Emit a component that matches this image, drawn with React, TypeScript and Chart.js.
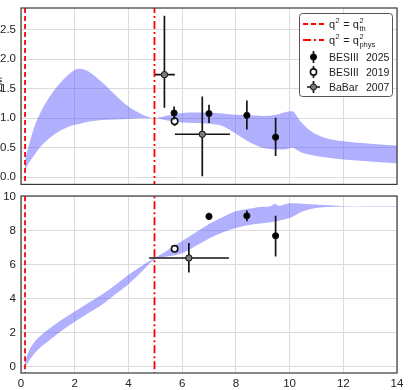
import React, { useEffect, useRef } from 'react';
import { Chart, registerables } from 'chart.js';
Chart.register(...registerables);

const FONT = "'Liberation Sans', Arial, sans-serif";

// vertical reference lines
const qTh = 0.15;
const qPhys = 4.97;

// ---------- top panel: band ----------
const bandTopX = [0.15, 0.3, 0.5, 0.75, 1, 1.5, 2, 2.2, 2.5, 3, 3.5, 4, 4.5, 4.97, 5.5, 6, 6.5, 7, 7.5, 8, 8.5, 9, 9.5, 9.8, 10.1, 10.4, 10.8, 11.3, 12, 13, 14];
const bandTopUpper = [0.3, 0.55, 0.86, 1.12, 1.32, 1.62, 1.82, 1.84, 1.8, 1.62, 1.4, 1.2, 1.07, 1.0, 1.05, 1.09, 1.1, 1.1, 1.08, 1.06, 1.05, 1.04, 1.06, 1.1, 1.12, 0.95, 0.78, 0.67, 0.61, 0.57, 0.54];
const bandTopLower = [0.12, 0.25, 0.38, 0.53, 0.64, 0.8, 0.89, 0.91, 0.94, 0.97, 0.98, 0.99, 1.0, 1.0, 0.96, 0.93, 0.92, 0.91, 0.87, 0.74, 0.6, 0.5, 0.47, 0.47, 0.5, 0.43, 0.38, 0.34, 0.3, 0.27, 0.24];

// ---------- bottom panel: band ----------
const bandBotX = [0.15, 0.3, 0.5, 0.75, 1, 1.5, 2, 2.5, 3, 3.5, 4, 4.5, 4.97, 5.5, 6, 6.5, 7, 7.5, 8, 8.5, 9, 9.3, 9.45, 9.6, 10, 10.5, 11, 11.5, 12, 13, 14];
const bandBotUpper = [0.3, 0.95, 1.45, 1.85, 2.17, 2.75, 3.25, 3.75, 4.23, 4.8, 5.41, 5.95, 6.38, 6.9, 7.4, 7.9, 8.4, 8.8, 9.15, 9.3, 9.42, 9.45, 9.6, 9.47, 9.62, 9.6, 9.55, 9.5, 9.45, 9.43, 9.43];
const bandBotLower = [0.0, 0.35, 0.78, 1.18, 1.48, 2.1, 2.65, 3.15, 3.64, 4.25, 4.86, 5.6, 6.32, 6.5, 6.68, 7.1, 7.55, 7.9, 8.17, 8.35, 8.45, 8.5, 8.55, 8.6, 8.75, 9.15, 9.35, 9.4, 9.41, 9.4, 9.4];

// ---------- top panel: measurements ----------
const bes25TopX = [5.7, 7.0, 8.41, 9.48];
const bes25TopY = [1.09, 1.08, 1.05, 0.68];
const bes25TopLo = [0.98, 0.92, 0.81, 0.36];
const bes25TopHi = [1.2, 1.23, 1.3, 1.01];

const bes19TopX = [5.72];
const bes19TopY = [0.95];
const bes19TopLo = [0.87];
const bes19TopHi = [1.03];

const babarTopX = [5.34, 6.75];
const babarTopY = [1.74, 0.73];
const babarTopLo = [1.18, 0.02];
const babarTopHi = [2.74, 1.37];
const babarTopXLo = [4.99, 5.73];
const babarTopXHi = [5.73, 7.78];

// ---------- bottom panel: measurements ----------
const bes25BotX = [7.0, 8.41, 9.48];
const bes25BotY = [8.85, 8.88, 7.71];
const bes25BotLo = [8.63, 8.56, 6.49];
const bes25BotHi = [9.07, 9.2, 8.89];

const bes19BotX = [5.72];
const bes19BotY = [6.94];
const bes19BotLo = [6.8];
const bes19BotHi = [7.08];

const babarBotX = [6.25];
const babarBotY = [6.4];
const babarBotLo = [5.55];
const babarBotHi = [7.28];
const babarBotXLo = [4.77];
const babarBotXHi = [7.74];

// ticks
const xTicks = [0, 2, 4, 6, 8, 10, 12, 14];
const topYTicks = [0, 0.5, 1, 1.5, 2, 2.5];
const botYTicks = [0, 2, 4, 6, 8, 10];

const BAND_COLOR = 'rgba(80,80,255,0.45)';

const pts = (xs: number[], ys: number[]) => xs.map((x, i) => ({ x, y: ys[i] }));

function bandSets(xs: number[], lo: number[], hi: number[]) {
  return [
    {
      type: 'line', data: pts(xs, lo), borderWidth: 0, pointRadius: 0, fill: false,
      showLine: true, cubicInterpolationMode: 'monotone', order: 3, borderColor: 'rgba(0,0,0,0)',
    },
    {
      type: 'line', data: pts(xs, hi), borderWidth: 0, pointRadius: 0, fill: '-1',
      backgroundColor: BAND_COLOR, borderColor: 'rgba(0,0,0,0)',
      showLine: true, cubicInterpolationMode: 'monotone', order: 3,
    },
  ];
}

function vlines() {
  return [
    {
      type: 'line', data: [{ x: qTh, y: -100 }, { x: qTh, y: 100 }], borderColor: '#ff0000',
      borderWidth: 1.8, borderDash: [5, 3], pointRadius: 0, showLine: true, fill: false, order: 2,
    },
    {
      type: 'line', data: [{ x: qPhys, y: -100 }, { x: qPhys, y: 100 }], borderColor: '#ff0000',
      borderWidth: 1.8, borderDash: [8, 3, 2, 3], pointRadius: 0, showLine: true, fill: false, order: 2,
    },
  ];
}

function pointSet(xs: number[], ys: number[], lo: number[], hi: number[], style: string, xlo?: number[], xhi?: number[]) {
  const fill = style === 'b25' ? '#000000' : style === 'b19' ? '#ffffff' : '#7a7a7a';
  return {
    type: 'scatter', data: pts(xs, ys), pointRadius: style === 'b25' ? 3.1 : 3.2,
    pointBackgroundColor: fill, pointBorderColor: '#111', pointBorderWidth: style === 'b19' ? 1.6 : 1,
    showLine: false, order: 0,
    errs: { lo, hi, xlo, xhi },
  };
}

const errorBarPlugin = {
  id: 'errbars',
  beforeDatasetDraw(chart: any, args: any) {
    const ds = chart.data.datasets[args.index];
    if (!ds.errs) return;
    const { ctx, chartArea } = chart;
    const xs = chart.scales.x, ys = chart.scales.y;
    ctx.save();
    ctx.beginPath();
    ctx.rect(chartArea.left, chartArea.top, chartArea.right - chartArea.left, chartArea.bottom - chartArea.top);
    ctx.clip();
    ctx.strokeStyle = '#151515';
    ctx.lineWidth = 1.7;
    ds.data.forEach((p: any, i: number) => {
      const px = xs.getPixelForValue(p.x);
      const py = ys.getPixelForValue(p.y);
      ctx.beginPath();
      ctx.moveTo(px, ys.getPixelForValue(ds.errs.lo[i]));
      ctx.lineTo(px, ys.getPixelForValue(ds.errs.hi[i]));
      if (ds.errs.xlo) {
        ctx.moveTo(xs.getPixelForValue(ds.errs.xlo[i]), py);
        ctx.lineTo(xs.getPixelForValue(ds.errs.xhi[i]), py);
      }
      ctx.stroke();
    });
    ctx.restore();
  },
};

const framePlugin = {
  id: 'frame',
  afterDraw(chart: any) {
    const { ctx, chartArea: a } = chart;
    ctx.save();
    ctx.strokeStyle = '#3a3a3a';
    ctx.lineWidth = 1.2;
    ctx.strokeRect(a.left, a.top, a.right - a.left, a.bottom - a.top);
    ctx.restore();
  },
};

function drawQ(ctx: CanvasRenderingContext2D, x: number, y: number, sub: string) {
  ctx.font = `11px ${FONT}`;
  ctx.fillText('q', x, y);
  x += ctx.measureText('q').width;
  ctx.font = `7.5px ${FONT}`;
  ctx.fillText('2', x + 0.5, y - 5);
  x += ctx.measureText('2').width + 1;
  ctx.font = `11px ${FONT}`;
  ctx.fillText(' = q', x, y);
  x += ctx.measureText(' = q').width;
  ctx.font = `7.5px ${FONT}`;
  ctx.fillText('2', x + 0.5, y - 5);
  ctx.fillText(sub, x + 0.5, y + 3);
}

const legendPlugin = {
  id: 'customLegend',
  afterDraw(chart: any) {
    const ctx: CanvasRenderingContext2D = chart.ctx;
    ctx.save();
    // box
    ctx.beginPath();
    (ctx as any).roundRect(299.5, 13.5, 93, 83, 3);
    ctx.fillStyle = 'rgba(255,255,255,0.92)';
    ctx.fill();
    ctx.strokeStyle = '#555';
    ctx.lineWidth = 1;
    ctx.stroke();

    ctx.fillStyle = '#222';
    ctx.textBaseline = 'alphabetic';
    ctx.textAlign = 'left';

    // row 1: dashed
    ctx.strokeStyle = '#ff0000';
    ctx.lineWidth = 1.8;
    ctx.setLineDash([5, 3]);
    ctx.beginPath(); ctx.moveTo(303, 24); ctx.lineTo(324, 24); ctx.stroke();
    // row 2: dash-dot
    ctx.setLineDash([8, 3, 2, 3]);
    ctx.beginPath(); ctx.moveTo(303, 40); ctx.lineTo(324, 40); ctx.stroke();
    ctx.setLineDash([]);
    ctx.fillStyle = '#222';
    drawQ(ctx, 329, 27.5, 'th');
    drawQ(ctx, 329, 43.5, 'phys');

    // markers
    const rows = [
      { y: 57, fill: '#000', bw: 1, x: false, label: 'BESIII', year: '2025' },
      { y: 72, fill: '#fff', bw: 1.6, x: false, label: 'BESIII', year: '2019' },
      { y: 87, fill: '#7a7a7a', bw: 1, x: true, label: 'BaBar', year: '2007' },
    ];
    rows.forEach((r) => {
      ctx.strokeStyle = '#151515';
      ctx.lineWidth = 1.7;
      ctx.beginPath();
      ctx.moveTo(313.5, r.y - 6); ctx.lineTo(313.5, r.y + 6);
      if (r.x) { ctx.moveTo(307, r.y); ctx.lineTo(320, r.y); }
      ctx.stroke();
      ctx.beginPath();
      ctx.arc(313.5, r.y, 3.1, 0, Math.PI * 2);
      ctx.fillStyle = r.fill;
      ctx.fill();
      ctx.lineWidth = r.bw;
      ctx.strokeStyle = '#111';
      ctx.stroke();
      ctx.fillStyle = '#222';
      ctx.font = `10.5px ${FONT}`;
      ctx.fillText(r.label, 329, r.y + 4);
      ctx.fillText(r.year, 366, r.y + 4);
    });

    // y-axis title (mostly clipped at the left edge)
    ctx.save();
    ctx.translate(-1, 102);
    ctx.rotate(-Math.PI / 2);
    ctx.fillStyle = '#222';
    ctx.font = `14px ${FONT}`;
    ctx.fillText('R', 0, 0);
    const w = ctx.measureText('R').width;
    ctx.font = `10px ${FONT}`;
    ctx.fillText('EM', w, 3);
    ctx.restore();

    ctx.restore();
  },
};

function makeOptions(yMin: number, yMax: number, yTicks: number[], showX: boolean, pad: any, fmt: (v: number) => string) {
  return {
    animation: false,
    responsive: false,
    events: [],
    layout: { padding: pad },
    plugins: { legend: { display: false }, tooltip: { enabled: false } },
    scales: {
      x: {
        type: 'linear', min: 0, max: 14,
        afterBuildTicks: (s: any) => { s.ticks = xTicks.map((v) => ({ value: v })); },
        afterFit: (s: any) => { s.height = showX ? 17 : 0; s.paddingLeft = 0; s.paddingRight = 0; },
        grid: { color: '#dcdcdc', lineWidth: 1, drawTicks: false },
        border: { display: false },
        ticks: { display: showX, padding: 4, color: '#222', font: { family: FONT, size: 11.5 }, maxRotation: 0 },
      },
      y: {
        type: 'linear', min: yMin, max: yMax,
        afterBuildTicks: (s: any) => { s.ticks = yTicks.map((v) => ({ value: v })); },
        afterFit: (s: any) => { s.width = 21; s.paddingTop = 0; s.paddingBottom = 0; },
        grid: { color: '#dcdcdc', lineWidth: 1, drawTicks: false },
        border: { display: false },
        ticks: { padding: 5, color: '#222', font: { family: FONT, size: 11.5 }, callback: (v: any) => fmt(Number(v)) },
      },
    },
  };
}

export default function App() {
  const topRef = useRef<HTMLCanvasElement>(null);
  const botRef = useRef<HTMLCanvasElement>(null);

  useEffect(() => {
    const top = new Chart(topRef.current as HTMLCanvasElement, {
      type: 'scatter',
      data: {
        datasets: [
          pointSet(bes25TopX, bes25TopY, bes25TopLo, bes25TopHi, 'b25'),
          pointSet(bes19TopX, bes19TopY, bes19TopLo, bes19TopHi, 'b19'),
          pointSet(babarTopX, babarTopY, babarTopLo, babarTopHi, 'babar', babarTopXLo, babarTopXHi),
          ...vlines(),
          ...bandSets(bandTopX, bandTopLower, bandTopUpper),
        ] as any,
      },
      options: makeOptions(-0.12, 2.87, topYTicks, false, { top: 8, bottom: 5, left: 0, right: 14 }, (v) => v.toFixed(1)) as any,
      plugins: [errorBarPlugin, framePlugin, legendPlugin],
    });
    const bot = new Chart(botRef.current as HTMLCanvasElement, {
      type: 'scatter',
      data: {
        datasets: [
          pointSet(bes25BotX, bes25BotY, bes25BotLo, bes25BotHi, 'b25'),
          pointSet(bes19BotX, bes19BotY, bes19BotLo, bes19BotHi, 'b19'),
          pointSet(babarBotX, babarBotY, babarBotLo, babarBotHi, 'babar', babarBotXLo, babarBotXHi),
          ...vlines(),
          ...bandSets(bandBotX, bandBotLower, bandBotUpper),
        ] as any,
      },
      options: makeOptions(-0.37, 10.05, botYTicks, true, { top: 6, bottom: 0, left: 0, right: 14 }, (v) => String(v)) as any,
      plugins: [errorBarPlugin, framePlugin],
    });
    return () => { top.destroy(); bot.destroy(); };
  }, []);

  return (
    <div style={{ position: 'absolute', left: 0, top: 0, width: 411, height: 390, background: '#fff' }}>
      <canvas ref={topRef} width={411} height={190} style={{ position: 'absolute', left: 0, top: 0 }} />
      <canvas ref={botRef} width={411} height={200} style={{ position: 'absolute', left: 0, top: 190 }} />
    </div>
  );
}
